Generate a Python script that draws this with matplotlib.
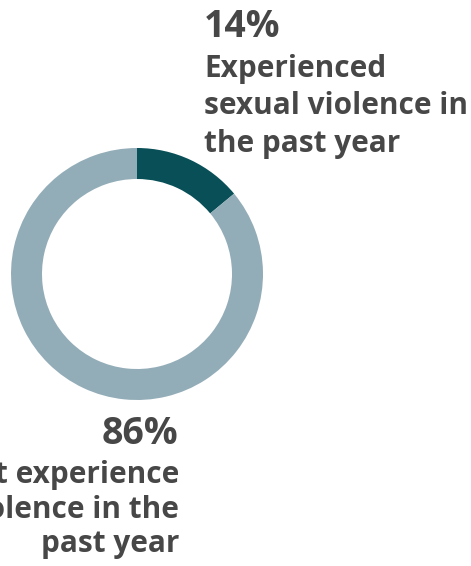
import matplotlib
matplotlib.use('Agg')
import matplotlib.pyplot as plt

# Share of respondents, experienced vs not
shares = [14, 86]
colors = ['#084f57', '#93adb8']
pct_labels = ['14%', '86%']
top_label = ['Experienced', 'sexual violence in', 'the past year']
bottom_label = ['Did not experience', 'sexual violence in the', 'past year']

W, H = 471, 566
fig = plt.figure(figsize=(W / 100, H / 100), dpi=100)
ax = fig.add_axes([0, 0, 1, 1])
ax.set_xlim(0, W)
ax.set_ylim(0, H)
ax.axis('off')

# donut, clockwise from 12 o'clock
ax.pie(shares, colors=colors, center=(137, H - 274), radius=126,
       startangle=90, counterclock=False,
       wedgeprops=dict(width=31, linewidth=0))
ax.set_xlim(0, W)
ax.set_ylim(0, H)

txt = '#474747'
font = 'Open Sans'

# label for the small slice, left aligned above/right of ring
ax.text(204, H - 37, pct_labels[0], fontsize=27, fontweight='bold',
        color=txt, family=font, ha='left', va='baseline')
for i, line in enumerate(top_label):
    ax.text(204, H - (77 + 37.5 * i), line, fontsize=21.4, fontweight='bold',
            color=txt, family=font, ha='left', va='baseline')

# label for the large slice, right aligned below ring
ax.text(178, H - 444, pct_labels[1], fontsize=27, fontweight='bold',
        color=txt, family=font, ha='right', va='baseline')
for i, line in enumerate(bottom_label):
    ax.text(179, H - (483 + 34.5 * i), line, fontsize=21.4, fontweight='bold',
            color=txt, family=font, ha='right', va='baseline')

fig.savefig('out.png', dpi=100, facecolor='white')
